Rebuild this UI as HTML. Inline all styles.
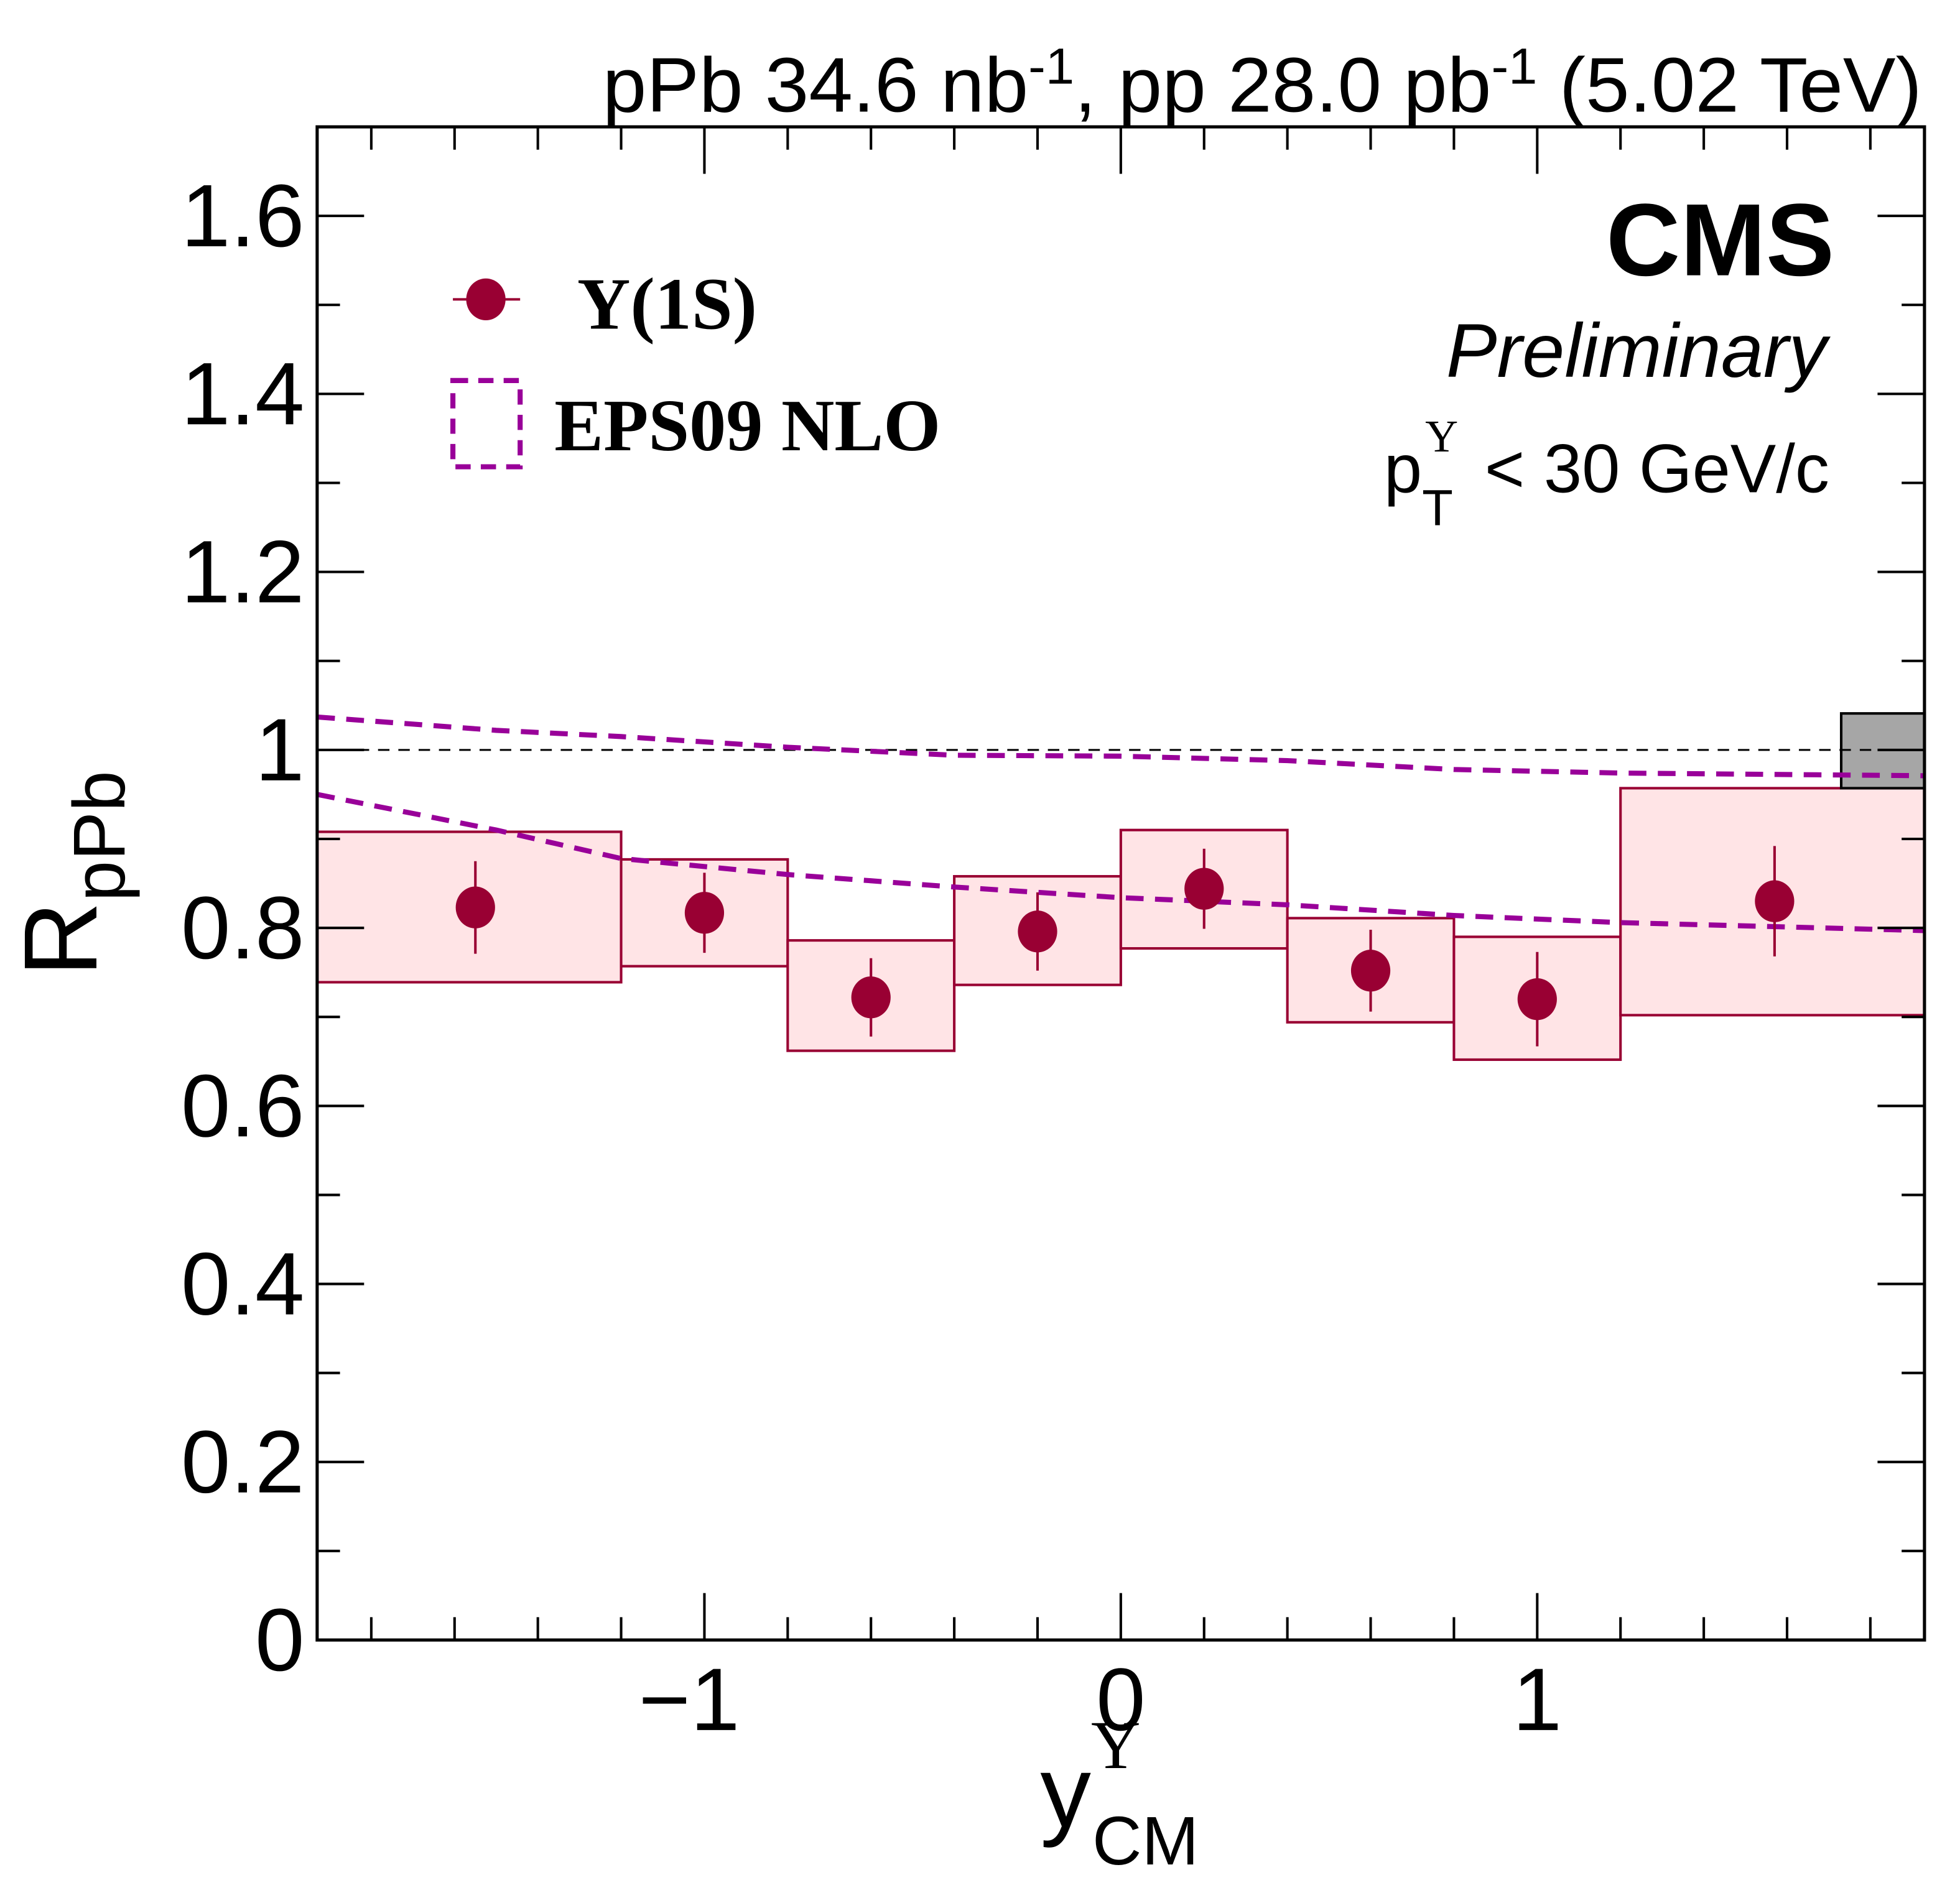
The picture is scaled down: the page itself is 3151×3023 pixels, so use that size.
<!DOCTYPE html>
<html><head><meta charset="utf-8"><style>
html,body{margin:0;padding:0;background:#fff}
svg{display:block}
text{font-family:"Liberation Sans",sans-serif}
</style></head><body>
<svg id="chart" width="3151" height="3023" viewBox="0 0 1545 1482.2" xmlns="http://www.w3.org/2000/svg">
<g id="boxes"></g>
<g id="theory"></g>
<g id="axes"></g>
<g id="points"></g>
<text x="1515" y="88" font-size="61" text-anchor="end" textLength="1040" lengthAdjust="spacingAndGlyphs">pPb 34.6 nb<tspan dy="-22" font-size="40">-1</tspan><tspan dy="22">, pp 28.0 pb</tspan><tspan dy="-22" font-size="40">-1</tspan><tspan dy="22"> (5.02 TeV)</tspan></text>
<text x="1446" y="217" font-size="81" font-weight="bold" text-anchor="end">CMS</text>
<text x="1440" y="297" font-size="60" font-style="italic" text-anchor="end">Preliminary</text>
<text x="1442" y="388" font-size="54" text-anchor="end"><tspan>p</tspan><tspan dy="26" font-size="40">T</tspan><tspan dy="-58" dx="-22" font-size="36" font-family="Liberation Serif">Υ</tspan><tspan dy="32" dx="6"> &lt; 30 GeV/c</tspan></text>
<g>
 <line x1="357" y1="236" x2="410" y2="236" stroke="#990033" stroke-width="2"/>
 <ellipse cx="383" cy="236" rx="15.5" ry="16.5" fill="#990033"/>
 <text x="455" y="259" font-size="58" font-weight="bold" style="font-family:'Liberation Serif',serif">Υ(1S)</text>
 <rect x="357" y="300" width="53" height="68" fill="none" stroke="#990099" stroke-width="4" stroke-dasharray="12,8"/>
 <text x="437" y="355" font-size="58" font-weight="bold" style="font-family:'Liberation Serif',serif">EPS09 NLO</text>
</g>
<text transform="translate(76,770) rotate(-90)" font-size="82">R<tspan dy="22" font-size="58">pPb</tspan></text>
<text x="820" y="1440" font-size="80">y<tspan dy="-46" font-size="54" style="font-family:'Liberation Serif',serif">Υ</tspan><tspan dx="-38" dy="76" font-size="54">CM</tspan></text>
</svg>
<script>
const categories = [-1.55, -1.0, -0.6, -0.2, 0.2, 0.6, 1.0, 1.57];
const binLo = [-1.93, -1.2, -0.8, -0.4, 0.0, 0.4, 0.8, 1.2];
const binHi = [-1.2, -0.8, -0.4, 0.0, 0.4, 0.8, 1.2, 1.93];
const values = [0.823, 0.817, 0.722, 0.796, 0.844, 0.752, 0.720, 0.830];
const statErr = [0.052, 0.045, 0.044, 0.044, 0.045, 0.046, 0.053, 0.062];
const sysHi = [0.908, 0.877, 0.786, 0.858, 0.910, 0.811, 0.790, 0.957];
const sysLo = [0.739, 0.757, 0.662, 0.736, 0.777, 0.694, 0.652, 0.702];
const globalUnc = [0.957, 1.041];
const theoryX = [-1.93, -1.5, -1.2, -0.8, -0.4, 0.0, 0.4, 0.8, 1.2, 1.93];
const theoryUpper = [1.037, 1.022, 1.015, 1.003, 0.994, 0.993, 0.988, 0.978, 0.974, 0.971];
const theoryLower = [0.950, 0.910, 0.878, 0.860, 0.846, 0.834, 0.826, 0.814, 0.806, 0.797];
const yTicks = [0, 0.2, 0.4, 0.6, 0.8, 1.0, 1.2, 1.4, 1.6];
const yTickLabels = ["0", "0.2", "0.4", "0.6", "0.8", "1", "1.2", "1.4", "1.6"];
const xTicks = [-1, 0, 1];
const xTickLabels = ["\u22121", "0", "1"];

const L=250,R=1517,T=100,B=1293,XMIN=-1.93,XMAX=1.93,YMIN=0,YMAX=1.7;
const sx=v=>L+(v-XMIN)/(XMAX-XMIN)*(R-L);
const sy=v=>B-(v-YMIN)/(YMAX-YMIN)*(B-T);
const NS="http://www.w3.org/2000/svg";
function mk(tag,attrs,parent){const e=document.createElementNS(NS,tag);for(const k in attrs)e.setAttribute(k,attrs[k]);parent.appendChild(e);return e;}
const gB=document.getElementById('boxes'),gT=document.getElementById('theory'),gA=document.getElementById('axes'),gP=document.getElementById('points');

for(let i=0;i<values.length;i++){
 const r=mk('rect',{x:sx(binLo[i]),y:sy(sysHi[i]),width:sx(binHi[i])-sx(binLo[i]),height:sy(sysLo[i])-sy(sysHi[i]),fill:'#ffe4e6',stroke:'#990033','stroke-width':2},gB);
 
 
}
const gr=mk('rect',{x:sx(1.73),y:sy(globalUnc[1]),width:sx(XMAX)-sx(1.73),height:sy(globalUnc[0])-sy(globalUnc[1]),fill:'#a6a6a6',stroke:'#000','stroke-width':2},gB);



const ref=mk('line',{x1:L,x2:R,y1:sy(1),y2:sy(1),stroke:'#000','stroke-width':1.5,'stroke-dasharray':'9,7'},gT);


[theoryUpper,theoryLower].forEach((arr,j)=>{
 const p=mk('polyline',{points:theoryX.map((x,i)=>sx(x)+','+sy(arr[i])).join(' '),fill:'none',stroke:'#990099','stroke-width':4,'stroke-dasharray':'14,9'},gT);
 
 
});

for(let i=0;i<values.length;i++){
 const l=mk('line',{x1:sx(categories[i]),x2:sx(categories[i]),y1:sy(values[i]+statErr[i]),y2:sy(values[i]-statErr[i]),stroke:'#990033','stroke-width':2},gP);
 
 
 const c=mk('ellipse',{cx:sx(categories[i]),cy:sy(values[i]),rx:15.5,ry:16.5,fill:'#990033'},gP);
 
 
}

mk('rect',{x:L,y:T,width:R-L,height:B-T,fill:'none',stroke:'#000','stroke-width':2.5},gA);
for(let v=0;v<=1.7001;v+=0.1){
 const major=Math.abs(v/0.2-Math.round(v/0.2))<1e-6;const len=major?37:18;const y=sy(v);
 mk('line',{x1:L,x2:L+len,y1:y,y2:y,stroke:'#000','stroke-width':2},gA);
 mk('line',{x1:R,x2:R-len,y1:y,y2:y,stroke:'#000','stroke-width':2},gA);
}
for(let k=-9;k<=9;k++){
 const v=k*0.2;const major=k%5===0;const len=major?37:18;const x=sx(v);
 mk('line',{x1:x,x2:x,y1:B,y2:B-len,stroke:'#000','stroke-width':2},gA);
 mk('line',{x1:x,x2:x,y1:T,y2:T+len,stroke:'#000','stroke-width':2},gA);
}
yTicks.forEach((v,i)=>{
 const t=mk('text',{x:240,y:sy(v)+24,'font-size':70,'text-anchor':'end'},gA);
 t.textContent=yTickLabels[i];
 
 
});
xTicks.forEach((v,i)=>{
 const t=mk('text',{x:sx(v)+(v<0?-12:0),y:1364,'font-size':70,'text-anchor':'middle'},gA);
 t.textContent=xTickLabels[i];
 
 
});
</script>
</body></html>
